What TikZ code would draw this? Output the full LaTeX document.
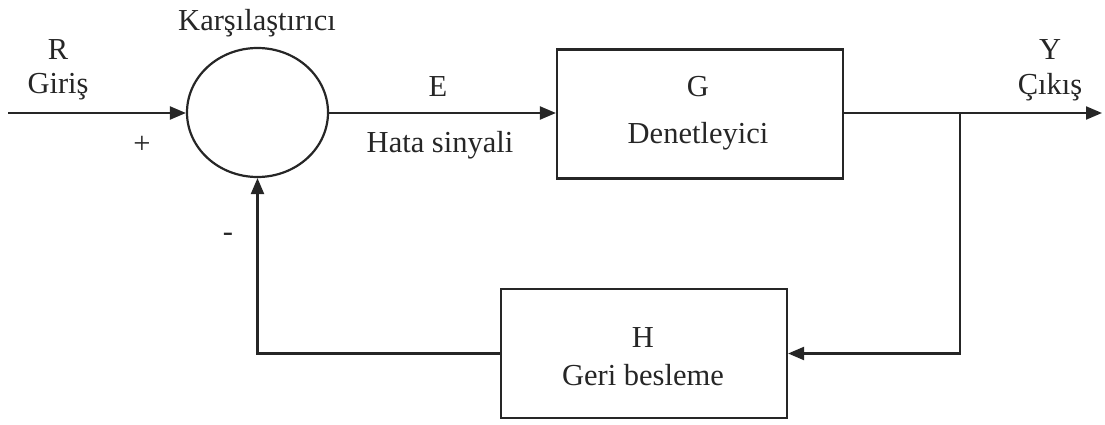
\documentclass[tikz,border=0pt]{standalone}
\usepackage{fontspec}
\setmainfont{Liberation Serif}
\usetikzlibrary{arrows.meta,shapes.geometric}
\begin{document}
\begin{tikzpicture}[x=1pt,y=1pt,
  line width=2.2pt, draw=black!85,
  blockbox/.style={draw, rectangle, minimum width=286pt, minimum height=129pt, inner sep=0pt},
  sumnode/.style={draw, ellipse, minimum width=141pt, minimum height=129pt, inner sep=0pt},
  lbl/.style={font=\fontsize{30.5}{34}\selectfont, text=black!85, inner sep=0pt, anchor=center},
  conn/.style={-{Triangle[length=16pt,width=13pt]}}
]
\useasboundingbox (0,0) rectangle (1105,-425);
\node[sumnode] (sum) at (257.5,-112.5) {};
\node[blockbox] (G) at (700,-114) {};
\node[blockbox] (H) at (644,-353.5) {};
\coordinate (in) at (8,-113);
\coordinate (out) at (1102,-113);
\coordinate (jn) at (960,-113);

\draw[conn] (in) -- (in -| sum.west);
\draw[conn] (sum.east |- in) -- (G.west |- in);
\draw[conn] (G.east |- in) -- (out);
\draw[conn] (jn) |- (H.east);
\draw[conn] (H.west) -| (sum.south);

\node[lbl] (tK) at (257,-23) {Karşılaştırıcı};
\node[lbl] (tR) at (58,-50) {R};
\node[lbl] (tGi) at (58,-87) {Giriş};
\node[lbl] (tplus) at (142,-145) {+};
\node[lbl] (tminus) at (228,-237) {-};
\node[lbl] (tE) at (438,-87) {E};
\node[lbl] (tHata) at (440,-145) {Hata sinyali};
\node[lbl] (tG) at (698,-87) {G};
\node[lbl] (tDen) at (698,-136) {Denetleyici};
\node[lbl] (tY) at (1050,-50) {Y};
\node[lbl] (tC) at (1050,-87) {Çıkış};
\node[lbl] (tH) at (643,-338) {H};
\node[lbl] (tGeri) at (643,-375) {Geri besleme};
\end{tikzpicture}
\end{document}
